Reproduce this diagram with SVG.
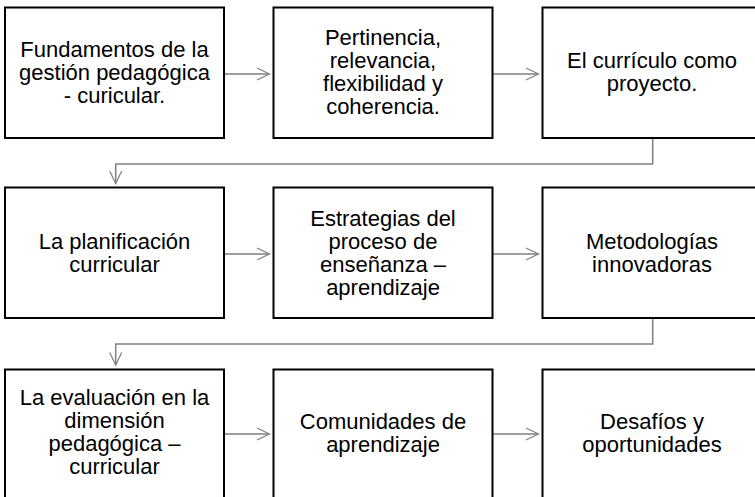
<svg xmlns="http://www.w3.org/2000/svg" width="755" height="497" viewBox="0 0 755 497">
<style>
.box{fill:#fff;stroke:#000;stroke-width:2}
.t{font-family:"Liberation Sans",Arial,sans-serif;font-size:22px;fill:#000;text-anchor:middle}
.c{fill:none;stroke:#808080;stroke-width:1.5}
.h{fill:none;stroke:#808080;stroke-width:1.2}
</style>
<rect width="755" height="497" fill="#fff"/>
<g id="connectors">
<path class="c" d="M225 74H269.5"/><path class="h" d="M257 68L269.5 74L257 80"/>
<path class="c" d="M493 74H538.5"/><path class="h" d="M526 68L538.5 74L526 80"/>
<path class="c" d="M225 254H269.5"/><path class="h" d="M257 248L269.5 254L257 260"/>
<path class="c" d="M493 254H538.5"/><path class="h" d="M526 248L538.5 254L526 260"/>
<path class="c" d="M225 434H269.5"/><path class="h" d="M257 428L269.5 434L257 440"/>
<path class="c" d="M493 434H538.5"/><path class="h" d="M526 428L538.5 434L526 440"/>
<path class="c" d="M652.7 138V164H115.7V183.5"/><path class="h" d="M109.7 171L115.7 183.5L121.7 171"/>
<path class="c" d="M652.7 318V344H115.7V365"/><path class="h" d="M109.7 352.5L115.7 365L121.7 352.5"/>
</g>
<g id="n1"><rect class="box" x="5" y="7.5" width="219" height="130.5"/>
<text class="t"><tspan x="114.5" y="56.5">Fundamentos de la</tspan><tspan x="114.5" y="79.5">gestión pedagógica</tspan><tspan x="114.5" y="102.5">- curicular.</tspan></text></g>
<g id="n2"><rect class="box" x="273.5" y="7.5" width="219" height="130.5"/>
<text class="t"><tspan x="383" y="45">Pertinencia,</tspan><tspan x="383" y="68">relevancia,</tspan><tspan x="383" y="91">flexibilidad y</tspan><tspan x="383" y="114">coherencia.</tspan></text></g>
<g id="n3"><rect class="box" x="542.5" y="7.5" width="219" height="130.5"/>
<text class="t"><tspan x="652" y="68">El currículo como</tspan><tspan x="652" y="91">proyecto.</tspan></text></g>
<g id="n4"><rect class="box" x="5" y="187.5" width="219" height="130.5"/>
<text class="t"><tspan x="114.5" y="248.5">La planificación</tspan><tspan x="114.5" y="271.5">curricular</tspan></text></g>
<g id="n5"><rect class="box" x="273.5" y="187.5" width="219" height="130.5"/>
<text class="t"><tspan x="383" y="225.5">Estrategias del</tspan><tspan x="383" y="248.5">proceso de</tspan><tspan x="383" y="271.5">enseñanza –</tspan><tspan x="383" y="294.5">aprendizaje</tspan></text></g>
<g id="n6"><rect class="box" x="542.5" y="187.5" width="219" height="130.5"/>
<text class="t"><tspan x="652" y="248.5">Metodologías</tspan><tspan x="652" y="271.5">innovadoras</tspan></text></g>
<g id="n7"><rect class="box" x="5" y="369.5" width="219" height="130.5"/>
<text class="t"><tspan x="114.5" y="405">La evaluación en la</tspan><tspan x="114.5" y="428">dimensión</tspan><tspan x="114.5" y="451">pedagógica –</tspan><tspan x="114.5" y="474">curricular</tspan></text></g>
<g id="n8"><rect class="box" x="273.5" y="369.5" width="219" height="130.5"/>
<text class="t"><tspan x="383" y="429">Comunidades de</tspan><tspan x="383" y="452">aprendizaje</tspan></text></g>
<g id="n9"><rect class="box" x="542.5" y="369.5" width="219" height="130.5"/>
<text class="t"><tspan x="652" y="429">Desafíos y</tspan><tspan x="652" y="452">oportunidades</tspan></text></g>
</svg>
